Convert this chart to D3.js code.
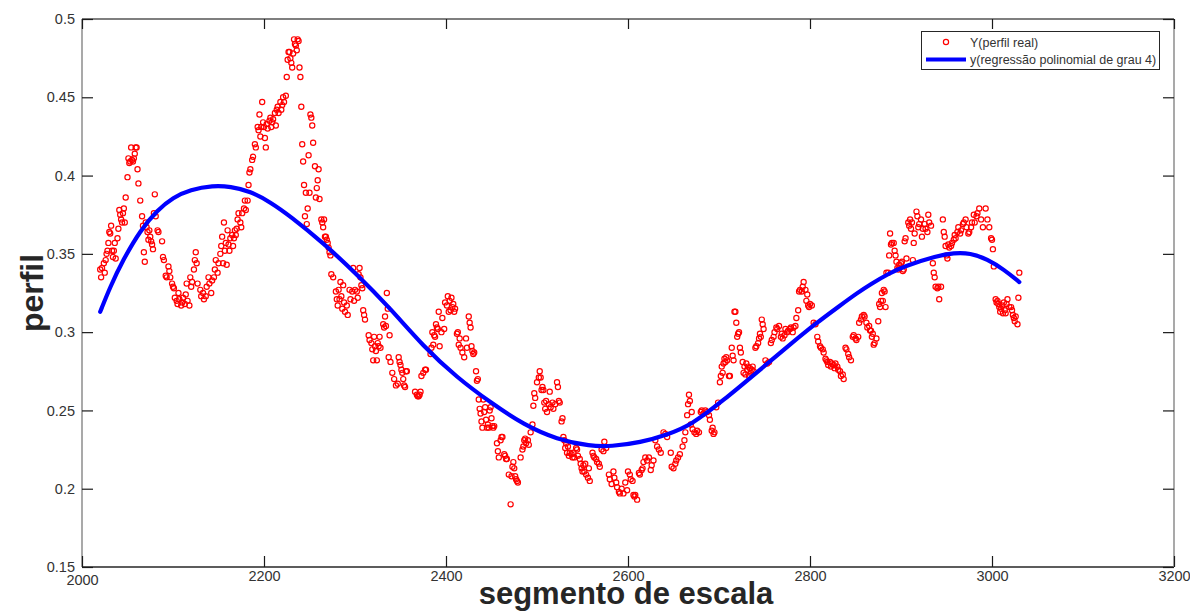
<!DOCTYPE html>
<html>
<head>
<meta charset="utf-8">
<script src="https://cdn.jsdelivr.net/npm/d3@7/dist/d3.min.js"></script>
<style>
  html, body { margin: 0; padding: 0; background: #ffffff; }
  svg { display: block; }
</style>
</head>
<body>
<svg id="chart" width="1190" height="612"></svg>
<script>
// ---- data ----
const xTicks = [2000, 2200, 2400, 2600, 2800, 3000, 3200];
const yTicks = [0.15, 0.2, 0.25, 0.3, 0.35, 0.4, 0.45, 0.5];
const xLabel = "segmento de escala";
const yLabel = "perfil";
const legendLabels = ["Y(perfil real)", "y(regressão polinomial de grau 4)"];

// Y(perfil real): [segmento, perfil]
const perfilReal = [
[2020,0.340],[2021,0.335],[2022,0.341],[2024,0.344],[2025,0.338],[2026,0.346],[2027,0.350],[2028,0.352],[2029,0.357],[2030,0.364],
[2031,0.363],[2032,0.368],[2033,0.352],[2034,0.348],[2035,0.352],[2036,0.357],[2037,0.347],[2039,0.360],[2040,0.366],[2041,0.378],
[2042,0.375],[2043,0.372],[2044,0.370],[2045,0.376],[2046,0.379],[2047,0.370],[2048,0.386],[2050,0.399],[2051,0.411],[2052,0.408],
[2053,0.409],[2054,0.418],[2055,0.410],[2056,0.409],[2057,0.411],[2058,0.414],[2059,0.418],[2060,0.418],[2061,0.404],[2062,0.395],
[2064,0.384],[2066,0.374],[2067,0.368],[2068,0.351],[2069,0.345],[2070,0.370],[2071,0.367],[2072,0.364],[2073,0.359],[2074,0.365],
[2075,0.361],[2076,0.358],[2077,0.356],[2078,0.353],[2079,0.376],[2080,0.388],[2081,0.374],[2083,0.365],[2084,0.364],[2088,0.358],
[2089,0.348],[2090,0.346],[2092,0.336],[2093,0.335],[2095,0.342],[2096,0.339],[2097,0.335],[2099,0.331],[2100,0.329],[2101,0.328],
[2102,0.322],[2104,0.320],[2105,0.318],[2106,0.325],[2107,0.321],[2109,0.317],[2110,0.319],[2111,0.322],[2113,0.318],[2114,0.324],
[2115,0.331],[2116,0.320],[2118,0.317],[2119,0.335],[2120,0.329],[2121,0.332],[2123,0.340],[2124,0.346],[2125,0.351],[2126,0.344],
[2127,0.331],[2130,0.327],[2131,0.323],[2133,0.325],[2134,0.321],[2136,0.323],[2137,0.329],[2139,0.335],[2140,0.331],[2142,0.325],
[2143,0.333],[2145,0.335],[2146,0.340],[2147,0.346],[2149,0.338],[2150,0.344],[2152,0.350],[2153,0.355],[2154,0.361],[2155,0.344],
[2156,0.370],[2157,0.352],[2158,0.357],[2159,0.343],[2160,0.365],[2161,0.356],[2162,0.352],[2163,0.360],[2165,0.362],[2166,0.355],
[2167,0.360],[2168,0.365],[2169,0.362],[2170,0.366],[2171,0.372],[2172,0.376],[2174,0.370],[2175,0.367],[2176,0.376],[2178,0.379],
[2179,0.384],[2180,0.378],[2182,0.384],[2183,0.394],[2184,0.402],[2185,0.404],[2187,0.410],[2188,0.412],[2190,0.420],[2191,0.418],
[2193,0.431],[2194,0.429],[2195,0.439],[2196,0.425],[2197,0.431],[2198,0.447],[2199,0.434],[2200,0.431],[2201,0.424],[2202,0.418],
[2203,0.433],[2204,0.430],[2206,0.435],[2207,0.437],[2208,0.431],[2209,0.434],[2210,0.436],[2212,0.440],[2213,0.432],[2214,0.442],
[2215,0.444],[2216,0.440],[2218,0.447],[2219,0.442],[2220,0.445],[2221,0.450],[2222,0.447],[2224,0.451],[2225,0.463],[2226,0.474],
[2227,0.479],[2228,0.479],[2229,0.475],[2230,0.472],[2231,0.469],[2232,0.478],[2233,0.487],[2234,0.484],[2235,0.483],[2236,0.480],
[2237,0.487],[2238,0.486],[2239,0.469],[2240,0.463],[2241,0.444],[2242,0.420],[2243,0.409],[2244,0.394],[2245,0.374],[2246,0.389],
[2247,0.369],[2248,0.379],[2249,0.413],[2250,0.389],[2251,0.439],[2252,0.437],[2253,0.432],[2254,0.421],[2256,0.406],[2257,0.386],
[2258,0.392],[2259,0.397],[2260,0.404],[2261,0.385],[2263,0.372],[2264,0.370],[2265,0.367],[2266,0.372],[2267,0.361],[2268,0.361],
[2269,0.359],[2270,0.357],[2271,0.354],[2272,0.351],[2273,0.349],[2274,0.337],[2276,0.335],[2279,0.326],[2280,0.321],[2281,0.317],
[2282,0.327],[2283,0.321],[2284,0.332],[2285,0.323],[2286,0.315],[2287,0.330],[2288,0.319],[2289,0.313],[2291,0.317],[2292,0.311],
[2294,0.327],[2295,0.321],[2297,0.326],[2298,0.341],[2299,0.320],[2300,0.327],[2302,0.326],[2303,0.322],[2304,0.337],[2305,0.341],
[2306,0.335],[2307,0.330],[2308,0.328],[2309,0.314],[2310,0.311],[2311,0.308],[2315,0.298],[2316,0.295],[2318,0.293],[2319,0.289],
[2320,0.282],[2321,0.297],[2322,0.291],[2323,0.288],[2324,0.282],[2325,0.293],[2326,0.291],[2327,0.297],[2328,0.290],[2331,0.305],
[2332,0.303],[2333,0.310],[2334,0.304],[2335,0.325],[2336,0.315],[2337,0.284],[2338,0.298],[2339,0.281],[2341,0.274],[2343,0.270],
[2345,0.266],[2347,0.267],[2348,0.284],[2349,0.281],[2350,0.279],[2351,0.276],[2352,0.274],[2353,0.270],[2354,0.266],[2355,0.265],
[2356,0.275],[2357,0.275],[2366,0.262],[2368,0.260],[2369,0.259],[2370,0.259],[2371,0.260],[2372,0.262],[2373,0.272],[2375,0.274],
[2377,0.276],[2378,0.276],[2383,0.286],[2384,0.290],[2385,0.300],[2386,0.292],[2387,0.298],[2388,0.297],[2389,0.305],[2390,0.303],
[2391,0.302],[2392,0.313],[2393,0.291],[2395,0.300],[2396,0.309],[2398,0.302],[2399,0.319],[2401,0.317],[2402,0.323],[2403,0.313],
[2404,0.320],[2405,0.314],[2406,0.322],[2407,0.316],[2408,0.318],[2409,0.313],[2410,0.315],[2412,0.299],[2413,0.300],[2414,0.292],
[2415,0.296],[2416,0.290],[2418,0.287],[2420,0.284],[2422,0.296],[2423,0.290],[2425,0.310],[2426,0.306],[2427,0.303],[2428,0.291],
[2429,0.288],[2430,0.286],[2431,0.287],[2433,0.275],[2434,0.269],[2435,0.270],[2436,0.257],[2437,0.251],[2438,0.248],[2439,0.243],
[2440,0.239],[2441,0.257],[2442,0.249],[2443,0.252],[2444,0.244],[2445,0.239],[2446,0.241],[2447,0.239],[2448,0.250],[2449,0.252],
[2450,0.245],[2451,0.240],[2452,0.239],[2453,0.240],[2456,0.229],[2457,0.224],[2458,0.220],[2460,0.231],[2461,0.233],[2462,0.233],
[2464,0.222],[2465,0.221],[2466,0.219],[2467,0.219],[2469,0.209],[2471,0.190],[2472,0.208],[2473,0.214],[2474,0.217],[2475,0.213],
[2476,0.208],[2477,0.206],[2478,0.205],[2479,0.204],[2482,0.220],[2484,0.225],[2485,0.227],[2486,0.231],[2487,0.232],[2488,0.229],
[2490,0.231],[2491,0.228],[2493,0.236],[2495,0.241],[2496,0.253],[2497,0.261],[2498,0.258],[2500,0.268],[2502,0.271],[2503,0.275],
[2504,0.271],[2505,0.263],[2506,0.265],[2507,0.263],[2508,0.255],[2509,0.251],[2510,0.256],[2511,0.249],[2513,0.254],[2514,0.262],
[2515,0.252],[2517,0.255],[2518,0.251],[2520,0.254],[2522,0.268],[2523,0.265],[2524,0.256],[2525,0.255],[2527,0.243],[2528,0.245],
[2529,0.233],[2530,0.231],[2531,0.226],[2532,0.229],[2533,0.223],[2534,0.227],[2535,0.221],[2536,0.223],[2538,0.222],[2539,0.220],
[2540,0.223],[2541,0.220],[2543,0.226],[2544,0.225],[2545,0.221],[2547,0.219],[2548,0.216],[2549,0.213],[2550,0.211],[2551,0.215],
[2552,0.211],[2553,0.216],[2554,0.209],[2556,0.207],[2557,0.213],[2558,0.205],[2561,0.223],[2562,0.221],[2563,0.220],[2565,0.219],
[2566,0.217],[2568,0.216],[2569,0.214],[2571,0.225],[2573,0.224],[2574,0.230],[2576,0.226],[2579,0.209],[2580,0.206],[2582,0.203],
[2584,0.211],[2585,0.207],[2587,0.204],[2588,0.201],[2590,0.198],[2591,0.197],[2593,0.200],[2595,0.197],[2597,0.204],[2599,0.199],
[2600,0.211],[2602,0.209],[2603,0.206],[2605,0.205],[2606,0.196],[2607,0.195],[2608,0.196],[2610,0.193],[2612,0.210],[2613,0.209],
[2615,0.212],[2616,0.213],[2617,0.217],[2619,0.220],[2621,0.218],[2623,0.220],[2625,0.212],[2626,0.215],[2628,0.218],[2630,0.231],
[2632,0.227],[2634,0.225],[2636,0.223],[2639,0.236],[2641,0.235],[2643,0.233],[2647,0.223],[2648,0.214],[2650,0.213],[2652,0.216],
[2653,0.218],[2655,0.220],[2657,0.222],[2660,0.227],[2662,0.231],[2663,0.236],[2665,0.247],[2666,0.254],[2667,0.260],[2668,0.256],
[2669,0.241],[2670,0.249],[2671,0.238],[2673,0.236],[2675,0.235],[2676,0.237],[2678,0.236],[2680,0.249],[2681,0.250],[2683,0.248],
[2685,0.250],[2687,0.249],[2689,0.247],[2690,0.244],[2692,0.237],[2693,0.239],[2694,0.235],[2695,0.236],[2697,0.252],[2699,0.255],
[2701,0.268],[2702,0.272],[2703,0.278],[2704,0.274],[2705,0.280],[2706,0.283],[2707,0.281],[2708,0.284],[2709,0.282],[2711,0.272],
[2712,0.272],[2714,0.290],[2715,0.285],[2716,0.282],[2717,0.313],[2718,0.313],[2719,0.306],[2720,0.297],[2721,0.299],[2722,0.300],
[2723,0.290],[2724,0.287],[2726,0.281],[2727,0.274],[2728,0.278],[2729,0.273],[2730,0.280],[2731,0.276],[2732,0.278],[2733,0.272],
[2734,0.277],[2735,0.274],[2736,0.276],[2737,0.278],[2738,0.275],[2740,0.290],[2741,0.291],[2743,0.293],[2744,0.296],[2745,0.299],
[2746,0.297],[2747,0.308],[2748,0.305],[2749,0.302],[2751,0.282],[2753,0.280],[2755,0.281],[2757,0.293],[2758,0.295],[2760,0.297],
[2761,0.300],[2763,0.303],[2764,0.302],[2766,0.304],[2768,0.297],[2769,0.299],[2770,0.296],[2772,0.298],[2773,0.302],[2775,0.300],
[2776,0.301],[2778,0.302],[2779,0.303],[2781,0.300],[2782,0.303],[2784,0.304],[2785,0.309],[2787,0.314],[2788,0.326],[2789,0.327],
[2791,0.326],[2792,0.329],[2793,0.332],[2795,0.327],[2796,0.320],[2797,0.324],[2798,0.317],[2799,0.316],[2800,0.318],[2802,0.317],
[2804,0.306],[2806,0.305],[2808,0.297],[2809,0.294],[2811,0.291],[2812,0.290],[2814,0.289],[2815,0.287],[2817,0.283],[2818,0.282],
[2819,0.281],[2820,0.279],[2822,0.281],[2823,0.278],[2824,0.280],[2826,0.279],[2827,0.277],[2828,0.280],[2830,0.278],[2831,0.276],
[2833,0.275],[2834,0.272],[2836,0.273],[2837,0.270],[2839,0.290],[2840,0.289],[2842,0.286],[2843,0.284],[2845,0.282],[2847,0.297],
[2848,0.298],[2850,0.296],[2851,0.295],[2853,0.297],[2854,0.306],[2856,0.308],[2857,0.310],[2859,0.311],[2860,0.310],[2862,0.306],
[2863,0.303],[2865,0.304],[2866,0.301],[2867,0.301],[2868,0.297],[2869,0.299],[2870,0.292],[2871,0.293],[2873,0.296],[2875,0.307],
[2876,0.318],[2877,0.316],[2878,0.320],[2879,0.325],[2880,0.320],[2881,0.327],[2882,0.326],[2883,0.316],[2884,0.338],[2886,0.338],
[2887,0.349],[2888,0.363],[2889,0.356],[2890,0.357],[2892,0.357],[2893,0.352],[2894,0.349],[2895,0.345],[2896,0.341],[2897,0.340],
[2898,0.343],[2900,0.344],[2901,0.345],[2902,0.339],[2903,0.340],[2904,0.358],[2905,0.360],[2906,0.347],[2908,0.370],[2909,0.368],
[2910,0.372],[2911,0.366],[2912,0.370],[2913,0.346],[2914,0.357],[2915,0.363],[2917,0.377],[2918,0.374],[2919,0.367],[2920,0.369],
[2922,0.372],[2923,0.361],[2924,0.366],[2926,0.369],[2927,0.366],[2929,0.364],[2930,0.375],[2931,0.370],[2933,0.368],[2935,0.344],
[2936,0.338],[2937,0.335],[2938,0.329],[2940,0.328],[2941,0.329],[2942,0.321],[2944,0.329],[2946,0.372],[2947,0.364],[2948,0.361],
[2949,0.355],[2950,0.349],[2951,0.347],[2952,0.356],[2953,0.354],[2955,0.355],[2956,0.357],[2958,0.359],[2959,0.362],[2960,0.360],
[2962,0.364],[2963,0.367],[2965,0.363],[2966,0.365],[2968,0.369],[2969,0.370],[2971,0.372],[2972,0.367],[2974,0.363],[2975,0.364],
[2977,0.367],[2978,0.370],[2980,0.375],[2981,0.370],[2983,0.374],[2984,0.376],[2986,0.379],[2988,0.372],[2990,0.367],[2993,0.379],
[2995,0.372],[2997,0.367],[2999,0.360],[3000,0.359],[3001,0.353],[3002,0.342],[3004,0.321],[3005,0.319],[3006,0.320],[3007,0.318],
[3008,0.316],[3009,0.313],[3010,0.315],[3011,0.317],[3012,0.312],[3013,0.319],[3014,0.314],[3015,0.312],[3016,0.318],[3017,0.321],
[3019,0.316],[3021,0.316],[3022,0.314],[3023,0.311],[3024,0.309],[3025,0.307],[3026,0.310],[3028,0.305],[3029,0.322],[3030,0.338]
];

// y(regressão polinomial de grau 4): points
const curveX = [2020, 2031, 2045, 2064, 2083, 2100, 2119, 2144, 2163, 2185, 2207, 2229, 2265, 2302, 2339, 2375, 2412, 2449, 2485, 2522, 2559, 2581, 2614, 2643, 2669, 2705, 2742, 2779, 2804, 2833, 2852, 2866, 2888, 2903, 2940, 2958, 2976, 2995, 3013, 3030];
const curveY = [0.313, 0.329, 0.346, 0.365, 0.378, 0.386, 0.391, 0.3936, 0.393, 0.390, 0.383, 0.374, 0.357, 0.337, 0.315, 0.291, 0.271, 0.255, 0.241, 0.2314, 0.2271, 0.227, 0.2295, 0.2345, 0.2405, 0.2565, 0.2745, 0.2925, 0.3045, 0.317, 0.325, 0.3305, 0.3378, 0.342, 0.3488, 0.3506, 0.3506, 0.3465, 0.340, 0.332];

// ---- layout ----
const W = 1190, H = 612;
const m = { left: 82, right: 16, top: 19, bottom: 45 };
const svg = d3.select("#chart");
const iw = W - m.left - m.right;  // 1092
const ih = H - m.top - m.bottom;  // 548

const x = d3.scaleLinear().domain([2000, 3200]).range([m.left, m.left + iw]);
const y = d3.scaleLinear().domain([0.15, 0.5]).range([m.top + ih, m.top]);

const font = "'Liberation Sans', Arial, Helvetica, sans-serif";

// box
const boxColor = "#8c8c8c";
svg.append("line").attr("x1", x(2000)).attr("x2", x(3200)).attr("y1", y(0.5)).attr("y2", y(0.5)).attr("stroke", "#555").attr("stroke-width", 1.3);
svg.append("line").attr("x1", x(2000)).attr("x2", x(3200)).attr("y1", y(0.15)).attr("y2", y(0.15)).attr("stroke", "#262626").attr("stroke-width", 1.3);
svg.append("line").attr("x1", x(2000)).attr("x2", x(2000)).attr("y1", y(0.5)).attr("y2", y(0.15)).attr("stroke", boxColor).attr("stroke-width", 1.5);
svg.append("line").attr("x1", x(3200)).attr("x2", x(3200)).attr("y1", y(0.5)).attr("y2", y(0.15)).attr("stroke", boxColor).attr("stroke-width", 1.5);

// axes (ticks inward)
const bottomAxis = d3.axisBottom(x).tickValues(xTicks).tickSizeInner(-11).tickSizeOuter(0).tickFormat(d3.format("d"));
const gB = svg.append("g").attr("transform", `translate(0,${y(0.15)})`).call(bottomAxis);
gB.select(".domain").remove();
gB.selectAll(".tick line").attr("stroke", "#1a1a1a").attr("stroke-width", 1.2);
gB.selectAll(".tick text").attr("font-family", font).attr("font-size", 14.5).attr("fill", "#333")
  .attr("y", d => d === 2000 ? 8 : 4).attr("dy", "0.71em");

const topAxis = d3.axisTop(x).tickValues(xTicks).tickSizeInner(-10).tickSizeOuter(0).tickFormat("");
const gT = svg.append("g").attr("transform", `translate(0,${y(0.5)})`).call(topAxis);
gT.select(".domain").remove();
gT.selectAll(".tick line").attr("stroke", "#1a1a1a").attr("stroke-width", 1.2);

const leftAxis = d3.axisLeft(y).tickValues(yTicks).tickSizeInner(-11).tickSizeOuter(0).tickFormat(d3.format("~g"));
const gL = svg.append("g").attr("transform", `translate(${x(2000)},0)`).call(leftAxis);
gL.select(".domain").remove();
gL.selectAll(".tick line").attr("stroke", "#1a1a1a").attr("stroke-width", 1.2);
gL.selectAll(".tick text").attr("font-family", font).attr("font-size", 14.5).attr("fill", "#333").attr("x", -7);

const rightAxis = d3.axisRight(y).tickValues(yTicks).tickSizeInner(-11).tickSizeOuter(0).tickFormat("");
const gR = svg.append("g").attr("transform", `translate(${x(3200)},0)`).call(rightAxis);
gR.select(".domain").remove();
gR.selectAll(".tick line").attr("stroke", "#1a1a1a").attr("stroke-width", 1.2);

// scatter
svg.append("g").selectAll("circle").data(perfilReal).join("circle")
  .attr("cx", d => x(d[0])).attr("cy", d => y(d[1])).attr("r", 2.6)
  .attr("fill", "none").attr("stroke", "#ff0000").attr("stroke-width", 1.2);

// regression curve
const curvePts = curveX.map((v, i) => [v, curveY[i]]);
svg.append("path").datum(curvePts)
  .attr("d", d3.line().x(d => x(d[0])).y(d => y(d[1])).curve(d3.curveBasis))
  .attr("fill", "none").attr("stroke", "#0000ff").attr("stroke-width", 4.2).attr("stroke-linecap", "round");

// axis titles
svg.append("text").attr("x", (x(2000) + x(3200)) / 2 - 2).attr("y", 604)
  .attr("text-anchor", "middle").attr("font-family", font).attr("font-weight", "bold")
  .attr("font-size", 31).attr("fill", "#262626").text(xLabel);
svg.append("text").attr("transform", `translate(43,${(y(0.15) + y(0.5)) / 2}) rotate(-90)`)
  .attr("text-anchor", "middle").attr("font-family", font).attr("font-weight", "bold")
  .attr("font-size", 32).attr("fill", "#262626").text(yLabel);

// legend
const lg = svg.append("g");
lg.append("rect").attr("x", 921.5).attr("y", 31.5).attr("width", 238).attr("height", 38)
  .attr("fill", "#fff").attr("stroke", "#262626").attr("stroke-width", 1);
lg.append("circle").attr("cx", 946).attr("cy", 42).attr("r", 2.6)
  .attr("fill", "none").attr("stroke", "#ff0000").attr("stroke-width", 1.2);
lg.append("line").attr("x1", 926).attr("x2", 966).attr("y1", 59.5).attr("y2", 59.5)
  .attr("stroke", "#0000ff").attr("stroke-width", 4);
lg.append("text").attr("x", 970).attr("y", 46.5).attr("font-family", font).attr("font-size", 12.5)
  .attr("fill", "#333").text(legendLabels[0]);
lg.append("text").attr("x", 970).attr("y", 64).attr("font-family", font).attr("font-size", 12.5)
  .attr("fill", "#333").text(legendLabels[1]);
</script>
</body>
</html>
